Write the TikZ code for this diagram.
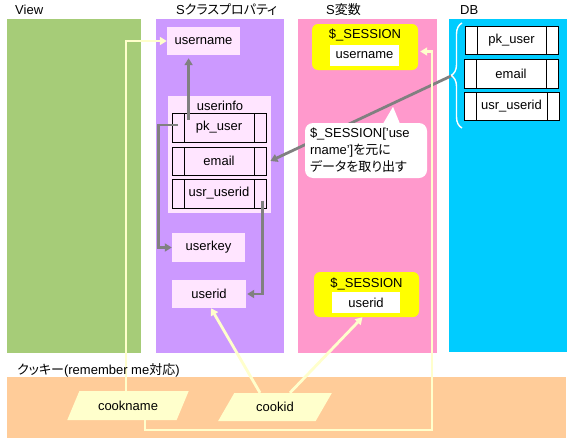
\documentclass[tikz,border=0pt]{standalone}
\usepackage{fontspec}
\setmainfont{Liberation Sans}
\newfontfamily\jp[RawFeature=+palt]{Noto Sans CJK JP}
\usetikzlibrary{arrows.meta,decorations.pathreplacing,shapes.geometric,calc}
\definecolor{viewgreen}{RGB}{166,204,120}
\definecolor{purp}{RGB}{204,153,255}
\definecolor{pinkc}{RGB}{255,153,204}
\definecolor{cyanc}{RGB}{0,204,255}
\definecolor{orangec}{RGB}{255,204,153}
\definecolor{lpink}{RGB}{255,229,255}
\definecolor{cream}{RGB}{255,255,204}
\definecolor{grayc}{RGB}{128,128,128}
\definecolor{yel}{RGB}{255,255,0}
\begin{document}
\begin{tikzpicture}[x=1pt,y=-1pt,
  font=\fontsize{13}{14}\selectfont,
  lbl/.style={inner sep=0, anchor=west},
  lbox/.style={fill=lpink, inner sep=0},
  proc/.style={draw=black, line width=0.8pt, inner sep=0,
    path picture={\draw[line width=0.8pt]
      ([xshift=12pt]path picture bounding box.north west) -- ([xshift=12pt]path picture bounding box.south west)
      ([xshift=-12pt]path picture bounding box.north east) -- ([xshift=-12pt]path picture bounding box.south east);}},
  sess/.style={fill=yel, rounded corners=6pt, inner sep=0},
  wbox/.style={fill=white, inner sep=0},
  para/.style={trapezium, trapezium stretches=true, fill=cream, inner sep=0,
    trapezium left angle=52, trapezium right angle=128},
  garrow/.style={draw=grayc, line width=2.8pt, -{Triangle[length=7pt,width=8pt]}},
  carrow/.style={draw=cream, line width=2.8pt, -{Triangle[length=7pt,width=8pt]}},
]
\useasboundingbox (0,0) rectangle (580,447);
% column backgrounds
\fill[viewgreen] (7,19) rectangle (141,353);
\fill[purp] (156,19) rectangle (284,353);
\fill[pinkc] (298,19) rectangle (437,353);
\fill[cyanc] (449,19) rectangle (567,352);
\fill[orangec] (7,377) rectangle (566,438);
% column labels
\node[lbl] (lview) at (15,10) {View};
\node[lbl] (lcls) at (176,10) {S{\jp クラスプロパティ}};
\node[lbl] (lvar) at (326,10) {S{\jp 変数}};
\node[lbl] (ldb) at (460,10) {DB};
% class properties
\node[lbox, minimum width=73pt, minimum height=28pt] (un) at (203.5,41) {username};
\node[lbox, minimum width=103pt, minimum height=117pt] (ui) at (219.5,154.5) {};
\node[inner sep=0] (uit) at (220,106) {userinfo};
\node[proc, minimum width=94pt, minimum height=29pt] (pk) at (219,127.5) {pk\_user};
\node[proc, minimum width=94pt, minimum height=28pt] (em) at (219,161) {email};
\node[proc, minimum width=94pt, minimum height=29pt] (uu) at (219,193.5) {usr\_userid};
\node[lbox, minimum width=73pt, minimum height=29pt] (uk) at (208.5,247.5) {userkey};
\node[lbox, minimum width=74pt, minimum height=28pt] (uid) at (209,294) {userid};
% session
\node[sess, minimum width=106pt, minimum height=46pt] (ss1) at (365,47) {};
\node[inner sep=0] (ss1t) at (365,35) {\$\_SESSION};
\node[wbox, minimum width=69pt, minimum height=21pt] (ss1v) at (364.5,55.5) {username};
\node[sess, minimum width=105pt, minimum height=45pt] (ss2) at (366.5,294.5) {};
\node[inner sep=0] (ss2t) at (366.5,284) {\$\_SESSION};
\node[wbox, minimum width=68pt, minimum height=21pt] (ss2v) at (366,302.5) {userid};
% DB
\node[proc, fill=white, minimum width=93pt, minimum height=28pt] (dpk) at (511.5,40) {pk\_user};
\node[proc, fill=white, minimum width=94pt, minimum height=29pt] (dem) at (511,73.5) {email};
\node[proc, fill=white, minimum width=95pt, minimum height=28pt] (duu) at (511.5,106) {usr\_userid};
\draw[white, line width=1.4pt, decorate, decoration={brace, amplitude=11pt}] (462,128) -- (462,23);
\coordinate (bt) at (451,76);
% cookies
\node[para, minimum width=122pt, minimum height=29pt] (cn) at (128,405.5) {cookname};
\node[para, minimum width=114pt, minimum height=28pt] (ci) at (275,407) {cookid};
% gray connectors
\coordinate (pks) at ([xshift=17pt,yshift=-7pt]pk.north west);
\draw[garrow] (pks) -- ($(pks |- un.south)+(0,3)$);
\coordinate (pkl) at ([xshift=6pt,yshift=2.5pt]pk.west);
\draw[garrow] (pkl) -- ++(-19,0) |- (uk.west);
\coordinate (uus) at ([xshift=-4pt,yshift=-7pt]uu.east);
\draw[garrow] (uus) |- ([xshift=1pt]uid.east);
\draw[garrow] (bt) -- ([xshift=4pt]em.east);
% callout
\node[fill=white, rounded corners=8pt, inner sep=0, minimum width=122pt, minimum height=55pt,
  text width=112pt, align=left, font=\fontsize{13}{17}\selectfont] (co) at (366,150.5)
  {\$\_SESSION['use\\rname']{\jp を元に}\\{\jp データを取り出す}};
\fill[white] ([xshift=17pt,yshift=-1pt]co.north) -- ([xshift=27pt,yshift=16pt]co.north) -- ([xshift=34pt,yshift=-1pt]co.north) -- cycle;
% cream connectors
\draw[carrow] ([xshift=-2pt]cn.north) |- (un.west);
\coordinate (rc) at (432,430);
\draw[carrow] ([xshift=17pt]cn.south) |- (rc) |- ([xshift=2pt,yshift=-4.5pt]ss1.east);
\draw[carrow] ([xshift=-15pt]ci.north) -- ([xshift=2pt]uid.south);
\draw[carrow] ([xshift=15pt]ci.north) -- ([xshift=-4pt]ss2.south);
% cookie label on top
\node[lbl] (lck) at (17,370) {{\jp クッキー}(remember me{\jp 対応})};
\end{tikzpicture}
\end{document}
